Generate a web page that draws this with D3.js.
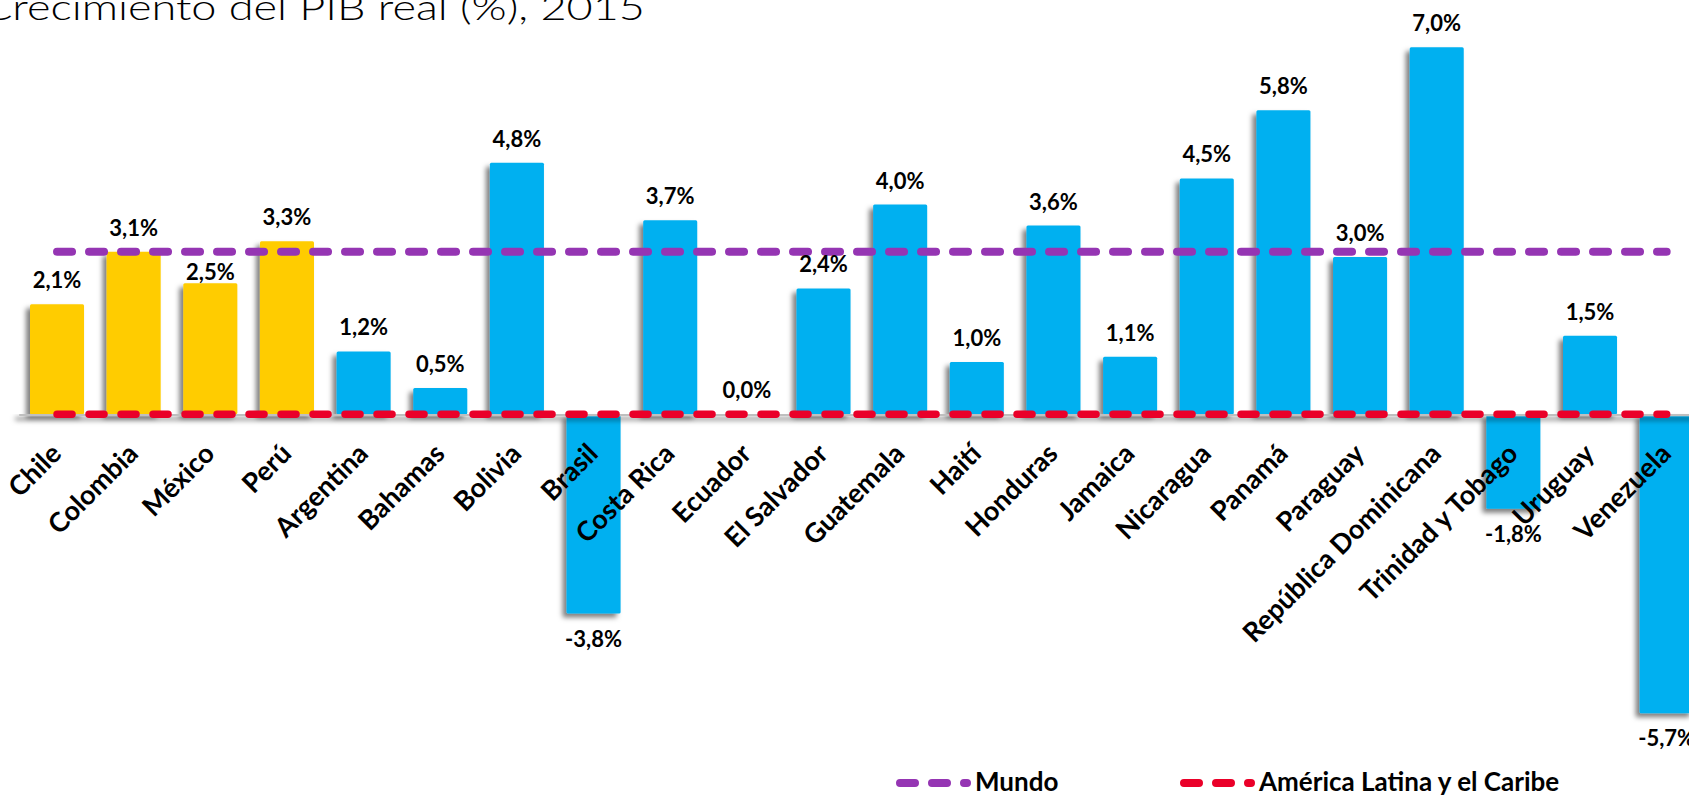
<!DOCTYPE html>
<html>
<head>
<meta charset="utf-8">
<script src="https://cdn.jsdelivr.net/npm/d3@7"></script>
<style>
  html, body { margin: 0; padding: 0; background: #fff; overflow: hidden; }
  svg { display: block; }
  text { font-family: Lato, "Open Sans", sans-serif; }
</style>
</head>
<body>
<svg id="chart" width="1689" height="795"></svg>
<script>
// ---- data ----
const title = "Crecimiento del PIB real (%), 2015";
const categories = ["Chile", "Colombia", "México", "Perú", "Argentina", "Bahamas", "Bolivia", "Brasil",
  "Costa Rica", "Ecuador", "El Salvador", "Guatemala", "Haití", "Honduras", "Jamaica", "Nicaragua",
  "Panamá", "Paraguay", "República Dominicana", "Trinidad y Tobago", "Uruguay", "Venezuela"];
const values = [2.1, 3.1, 2.5, 3.3, 1.2, 0.5, 4.8, -3.8, 3.7, 0.0, 2.4, 4.0, 1.0, 3.6, 1.1, 4.5,
  5.8, 3.0, 7.0, -1.8, 1.5, -5.7];
const highlighted = ["Chile", "Colombia", "México", "Perú"];
const worldGrowth = 3.1;
const lacGrowth = 0.0;
const legendLabels = ["Mundo", "América Latina y el Caribe"];

// ---- style ----
const yellow = "#FFCC00", blue = "#00B0F0", purple = "#9535B3", red = "#EA0029";

const svg = d3.select("#chart");
const defs = svg.append("defs");
const f = defs.append("filter").attr("id", "shadow")
  .attr("filterUnits", "userSpaceOnUse").attr("x", 0).attr("y", 0).attr("width", 1689).attr("height", 795);
f.append("feDropShadow").attr("dx", -4).attr("dy", 4).attr("stdDeviation", 2.5)
  .attr("flood-color", "#000").attr("flood-opacity", 0.5);

const x = d3.scaleBand().domain(categories).range([18.7, 1705]).paddingInner(0.295).paddingOuter(0.1475);
const y = d3.scaleLinear().domain([-5.7, 7.0]).range([713.2, 47.3]);
const cx = c => x(c) + x.bandwidth() / 2;

const loc = d3.formatLocale({decimal: ",", thousands: ".", grouping: [3], currency: ["", ""], minus: "-"});
const fmt = v => loc.format(".1f")(v) + "%";

// title
svg.append("text").attr("x", -18).attr("y", 20)
  .attr("font-size", 36).attr("font-weight", 300).attr("fill", "#000")
  .attr("textLength", 663).attr("lengthAdjust", "spacingAndGlyphs")
  .text(title);

const data = categories.map((c, i) => ({c, v: values[i]}));

// bars
svg.append("g").attr("filter", "url(#shadow)")
  .selectAll("rect").data(data).join("rect")
  .attr("x", d => x(d.c)).attr("width", x.bandwidth())
  .attr("y", d => Math.min(y(d.v), y(0)))
  .attr("height", d => Math.abs(y(d.v) - y(0)))
  .attr("rx", 1.5)
  .attr("fill", d => highlighted.includes(d.c) ? yellow : blue);

// axis
const axis = d3.axisBottom(x).tickSize(0).tickSizeOuter(0).tickPadding(0);
const ag = svg.append("g").attr("transform", `translate(0,${y(0)})`).call(axis);
ag.select(".domain").attr("stroke", "#BFBFBF").attr("stroke-width", 3).attr("filter", "url(#shadow)");
ag.selectAll(".tick text")
  .attr("y", 0).attr("dy", 0)
  .attr("text-anchor", "end")
  .attr("transform", "translate(6,41) rotate(-45)")
  .attr("font-family", "Lato, 'Open Sans', sans-serif")
  .attr("font-size", 27).attr("font-weight", "bold").attr("fill", "#000");

// reference lines
const line = d3.line();
function refLine(val, color, w) {
  svg.append("path")
    .attr("d", line(categories.map(c => [cx(c), y(val)])))
    .attr("fill", "none").attr("stroke", color).attr("stroke-width", w)
    .attr("stroke-linecap", "round").attr("stroke-dasharray", "15 17");
}
refLine(worldGrowth, purple, 8);
refLine(lacGrowth, red, 7.5);

// value labels
const worldY = y(worldGrowth);
svg.append("g").selectAll("text").data(data).join("text")
  .attr("x", d => cx(d.c))
  .attr("y", d => {
    if (d.v < 0) return y(d.v) + 33;
    let b = y(d.v) - 16;
    if (b - 15 < worldY + 3 && b > worldY - 4) b = y(d.v) - 3;
    return b;
  })
  .attr("text-anchor", "middle").attr("font-size", 22).attr("font-weight", "bold").attr("fill", "#000")
  .text(d => fmt(d.v));

// legend
const legendX = [900, 1184];
const legendColors = [purple, red];
const lg = svg.append("g");
legendLabels.forEach((lab, i) => {
  lg.append("line").attr("x1", legendX[i]).attr("x2", legendX[i] + 67)
    .attr("y1", 783).attr("y2", 783)
    .attr("stroke", legendColors[i]).attr("stroke-width", 8)
    .attr("stroke-linecap", "round").attr("stroke-dasharray", "15 17");
  lg.append("text").attr("x", legendX[i] + 75).attr("y", 791)
    .attr("font-size", 26).attr("font-weight", "bold").attr("fill", "#000").text(lab);
});
</script>
</body>
</html>
